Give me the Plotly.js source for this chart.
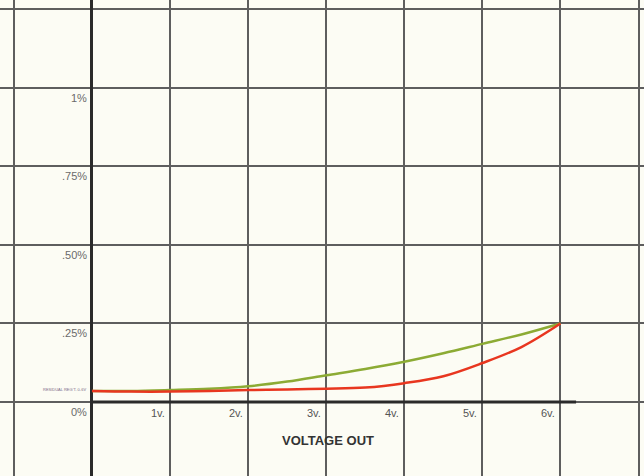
<!DOCTYPE html>
<html>
<head>
<meta charset="utf-8">
<script src="https://cdn.plot.ly/plotly-3.0.1.min.js"></script>
<style>html,body{margin:0;padding:0;background:#fcfcf4;}#chart{width:644px;height:476px;}</style>
</head>
<body>
<div id="chart"></div>
<script>
// Data
var voltage = [0, 0.5, 1, 1.5, 2, 2.5, 3, 3.5, 4, 4.5, 5, 5.5, 6];
var greenPct = [0.035, 0.035, 0.038, 0.042, 0.05, 0.065, 0.085, 0.105, 0.128, 0.155, 0.185, 0.215, 0.25];
var redPct   = [0.035, 0.033, 0.033, 0.035, 0.038, 0.040, 0.042, 0.046, 0.060, 0.082, 0.124, 0.175, 0.25];
var yTickVals = [0, 0.25, 0.5, 0.75, 1];
var yTickText = ['0%', '.25%', '.50%', '.75%', '1%'];
var xTickVals = [1, 2, 3, 4, 5, 6];
var xTickText = ['1v.', '2v.', '3v.', '4v.', '5v.', '6v.'];
var xTitle = 'VOLTAGE OUT';
var smallNote = 'RESIDUAL REG\'T. 0-6V';

var traces = [
  {x: voltage, y: greenPct, mode: 'lines', line: {color: '#8cab34', width: 2.5, shape: 'spline'}, hoverinfo: 'skip'},
  {x: voltage, y: redPct, mode: 'lines', line: {color: '#e8361f', width: 2.5, shape: 'spline'}, hoverinfo: 'skip'}
];

var ann = [];
yTickVals.forEach(function (v, i) {
  ann.push({x: 0, y: v, xref: 'x', yref: 'y', text: yTickText[i], showarrow: false,
    xanchor: 'right', yanchor: 'top', xshift: -3, yshift: -2,
    font: {family: 'Liberation Sans, Arial, sans-serif', size: 11, color: '#6a6a6a'}});
});
xTickVals.forEach(function (v, i) {
  ann.push({x: v, y: 0, xref: 'x', yref: 'y', text: xTickText[i], showarrow: false,
    xanchor: 'right', yanchor: 'top', xshift: -3, yshift: -3,
    font: {family: 'Liberation Sans, Arial, sans-serif', size: 11, color: '#555'}});
});
ann.push({x: 3.02, y: -0.124, xref: 'x', yref: 'y', text: '<b>' + xTitle + '</b>', showarrow: false,
  xanchor: 'center', yanchor: 'middle',
  font: {family: 'Liberation Sans, Arial, sans-serif', size: 13, color: '#333'}});
ann.push({x: 0, y: 0.04, xref: 'x', yref: 'y', text: smallNote, showarrow: false,
  xanchor: 'right', yanchor: 'middle', xshift: -4,
  font: {family: 'Liberation Sans, Arial, sans-serif', size: 4, color: '#7a6a88'}});

var layout = {
  width: 644, height: 476,
  margin: {l: 0, r: 0, t: 0, b: 0, pad: 0},
  paper_bgcolor: '#fcfcf4', plot_bgcolor: '#fcfcf4',
  showlegend: false,
  xaxis: {range: [-1.178, 7.07], tick0: 0, dtick: 1, showticklabels: false, ticks: '',
    showgrid: true, gridcolor: '#5e5e5e', gridwidth: 2,
    zeroline: true, zerolinecolor: '#2a2a2a', zerolinewidth: 3, showline: false, fixedrange: true},
  yaxis: {range: [-0.2357, 1.28], tick0: 0, dtick: 0.25, showticklabels: false, ticks: '',
    showgrid: true, gridcolor: '#5e5e5e', gridwidth: 2,
    zeroline: false, showline: false, fixedrange: true},
  shapes: [
    {type: 'line', xref: 'x', yref: 'y', x0: 0, x1: 6.2, y0: 0, y1: 0, line: {color: '#2a2a2a', width: 3}}
  ],
  annotations: ann
};

Plotly.newPlot('chart', traces, layout, {staticPlot: true, displayModeBar: false});
</script>
</body>
</html>
